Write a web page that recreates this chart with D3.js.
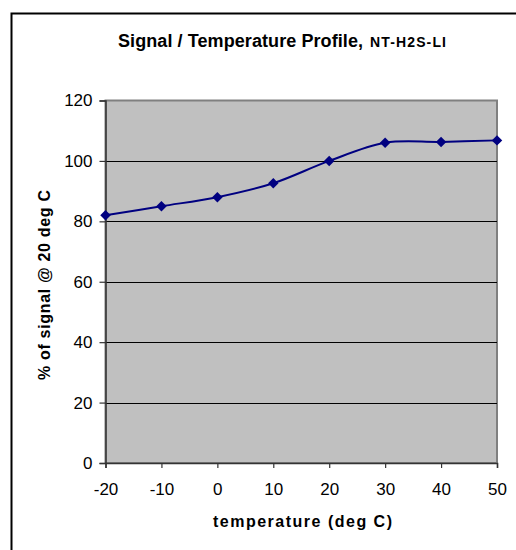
<!DOCTYPE html>
<html><head><meta charset="utf-8">
<script src="https://cdn.jsdelivr.net/npm/d3@7"></script>
<style>body{margin:0;background:#fff;} svg{display:block;font-family:Arial,"Liberation Sans",sans-serif;}</style>
</head><body>
<svg id="c" width="516" height="550"></svg>
<script>
const temps = [-20, -10, 0, 10, 20, 30, 40, 50];
const signal = [82, 85, 88, 92.6, 100, 106, 106.3, 106.8];
const yTicks = [0, 20, 40, 60, 80, 100, 120];
const xTicks = [-20, -10, 0, 10, 20, 30, 40, 50];
const titleMain = "Signal / Temperature Profile,";
const titleSub = "NT-H2S-LI";
const xTitle = "temperature (deg C)";
const yTitle = "% of signal @ 20 deg C";

const svg = d3.select("#c");
const L = 105.5, R = 497, T = 100.5, B = 463;
const x = d3.scaleLinear().domain([-20, 50]).range([L, R]);
const y = d3.scaleLinear().domain([0, 120]).range([B, T]);

// chart border (left & top visible)
svg.append("rect").attr("x", 11.5).attr("y", 13.5).attr("width", 600).attr("height", 600)
  .attr("fill", "none").attr("stroke", "#000").attr("stroke-width", 2);

// plot area
svg.append("rect").attr("x", L).attr("y", T).attr("width", R - L).attr("height", B - T)
  .attr("fill", "#c0c0c0").attr("stroke", "#808080").attr("stroke-width", 2);

// gridlines
svg.append("g").selectAll("line").data(yTicks.filter(d => d > 0 && d < 120)).join("line")
  .attr("x1", L).attr("x2", R).attr("y1", d => Math.round(y(d)) + 0.5).attr("y2", d => Math.round(y(d)) + 0.5)
  .attr("stroke", "#000").attr("stroke-width", 1);

// axes
const fmt = d => String(d);
const yAxis = svg.append("g").attr("transform", `translate(${L},0)`)
  .call(d3.axisLeft(y).tickValues(yTicks).tickFormat(fmt).tickSize(6).tickPadding(7));
const xAxis = svg.append("g").attr("transform", `translate(0,${B})`)
  .call(d3.axisBottom(x).tickValues(xTicks).tickFormat(fmt).tickSize(5).tickPadding(15));
[yAxis, xAxis].forEach(g => {
  g.select(".domain").attr("stroke", "#333").attr("stroke-width", 1.5);
  g.selectAll(".tick line").attr("stroke", "#333").attr("stroke-width", 1.2);
  g.selectAll("text").attr("font-size", 17).attr("fill", "#000").attr("font-family", "Arial, 'Liberation Sans', sans-serif");
});

// line
const pts = temps.map((t, i) => [t, signal[i]]);
svg.append("path").datum(pts)
  .attr("d", d3.line().x(d => x(d[0])).y(d => y(d[1])).curve(d3.curveCatmullRom.alpha(0)))
  .attr("fill", "none").attr("stroke", "#000080").attr("stroke-width", 2);

// markers
svg.append("g").selectAll("path").data(pts).join("path")
  .attr("transform", d => `translate(${x(d[0])},${y(d[1])})`)
  .attr("d", d3.symbol().type(d3.symbolDiamond2).size(70))
  .attr("fill", "#000080");

// title
svg.append("text").attr("x", 118).attr("y", 46.5)
  .attr("font-weight", "bold").attr("font-size", 18).attr("fill", "#000")
  .attr("textLength", 245).attr("lengthAdjust", "spacing").text(titleMain);
svg.append("text").attr("x", 370).attr("y", 46.5)
  .attr("font-weight", "bold").attr("font-size", 14).attr("fill", "#000")
  .attr("textLength", 76).attr("lengthAdjust", "spacing").text(titleSub);

// axis titles
svg.append("text").attr("x", 213).attr("y", 527)
  .attr("font-weight", "bold").attr("font-size", 16).attr("fill", "#000")
  .attr("textLength", 179).attr("lengthAdjust", "spacing").text(xTitle);
svg.append("text").attr("transform", "translate(50,380) rotate(-90)")
  .attr("font-weight", "bold").attr("font-size", 16).attr("fill", "#000")
  .attr("textLength", 190).attr("lengthAdjust", "spacing").text(yTitle);
</script>
</body></html>
